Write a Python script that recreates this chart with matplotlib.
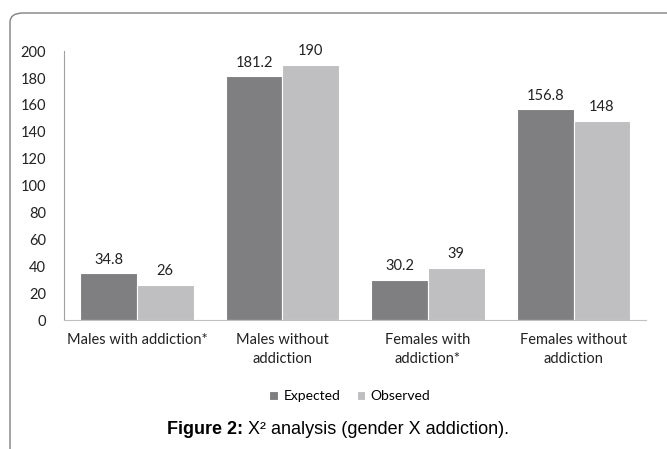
import matplotlib.pyplot as plt
import numpy as np
from matplotlib.patches import FancyBboxPatch

categories = ["Males with addiction*", "Males without\naddiction",
              "Females with\naddiction*", "Females without\naddiction"]
expected = [34.8, 181.2, 30.2, 156.8]
observed = [26, 190, 39, 148]
exp_labels = ["34.8", "181.2", "30.2", "156.8"]
obs_labels = ["26", "190", "39", "148"]

plt.rcParams['font.family'] = ['Lato', 'DejaVu Sans']

fig = plt.figure(figsize=(6.67, 4.49), dpi=100)
ax = fig.add_axes([0.096, 0.287, 0.873, 0.599])

x = np.arange(len(categories))
w = 0.39
b1 = ax.bar(x - w / 2, expected, w, color="#7f7f82", edgecolor="white", linewidth=0.8, label="Expected")
b2 = ax.bar(x + w / 2, observed, w, color="#bfbfc1", edgecolor="white", linewidth=0.8, label="Observed")

for bars, labs in [(b1, exp_labels), (b2, obs_labels)]:
    for r, t in zip(bars, labs):
        ax.text(r.get_x() + r.get_width() / 2, r.get_height() + 5, t,
                ha="center", va="bottom", fontsize=10.5, color="#222222")

ax.set_xlim(-0.5, 3.5)
ax.set_ylim(0, 200)
ax.set_yticks(range(0, 201, 20))
ax.set_xticks(x)
ax.set_xticklabels(categories, fontsize=10.5, color="#222222", linespacing=1.45, va="top")
ax.tick_params(axis="y", length=0, labelsize=10.5, pad=13, colors="#222222")
ax.tick_params(axis="x", length=0, pad=9)
for s in ["top", "right"]:
    ax.spines[s].set_visible(False)
ax.spines["left"].set_color("#a0a0a0")
ax.spines["bottom"].set_color("#c0c0c0")

fig.legend(handles=[b1, b2], labels=["Expected", "Observed"], loc="center",
           bbox_to_anchor=(350 / 667, 1 - 396 / 449), ncol=2, frameon=False,
           fontsize=10, handlelength=0.6, handleheight=0.6, columnspacing=1.2,
           handletextpad=0.4)

# caption: bold part + regular part, centred together
cy = 1 - 430 / 449
t1 = fig.text(0, cy, "Figure 2: ", ha="left", va="center", fontsize=13,
              fontweight="bold", family="Liberation Sans")
t2 = fig.text(0, cy, "X\u00b2 analysis (gender X addiction).", ha="left", va="center",
              fontsize=13, family="Liberation Sans")
fig.canvas.draw()
r = fig.canvas.get_renderer()
w1 = t1.get_window_extent(r).width
w2 = t2.get_window_extent(r).width
x0 = 338 - (w1 + w2) / 2
t1.set_x(x0 / 667)
t2.set_x((x0 + w1) / 667)

# rounded frame
box = FancyBboxPatch((10 / 667, -0.1), 1.1, 1 - 13 / 449 + 0.1,
                     boxstyle="round,pad=0,rounding_size=0.02",
                     transform=fig.transFigure, facecolor="none",
                     edgecolor="#808080", linewidth=1, clip_on=False)
fig.patches.append(box)

fig.savefig("out.png", dpi=100)
